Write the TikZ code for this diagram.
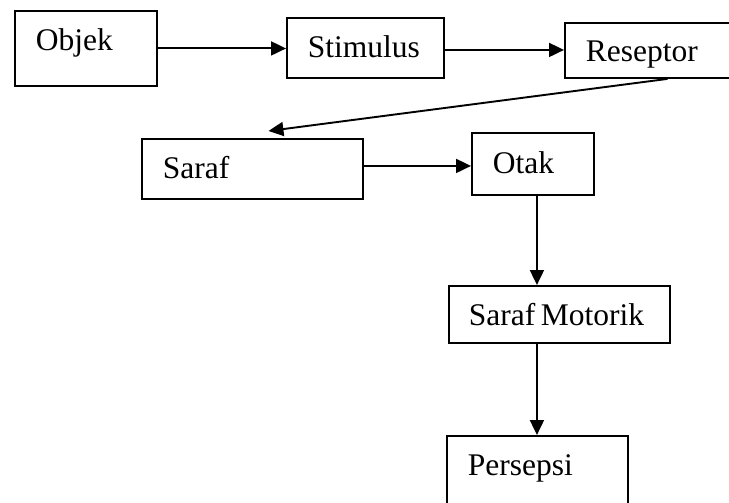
\documentclass[tikz,border=0pt]{standalone}
\usepackage{fontspec}
\setmainfont{Liberation Serif}[WordSpace=0.7]
\usetikzlibrary{positioning, arrows.meta}

\begin{document}
\begin{tikzpicture}[x=1pt, y=-1pt,
		box/.style={draw, line width=1.9pt, anchor=north west, align=flush left,
			inner xsep=21pt, inner ysep=0pt, font=\fontsize{31.5}{37}\selectfont},
		arr/.style={line width=1.9pt, -{Triangle[length=15pt, width=14pt]}}]
		\useasboundingbox (0,0) rectangle (729,503);
		\clip (0,0) rectangle (729,503);

		% Boxes (top left corner given)
		\node[box, text width=100pt, text height=40pt, text depth=35pt] (objek) at (14,10) {Objek};
		\node[box, text width=115pt, text height=40pt, text depth=20pt] (stimulus) at (286,17) {Stimulus};
		\node[box, text width=139pt, text height=39pt, text depth=16pt] (reseptor) at (564,22) {Reseptor}; % runs past the edge
		\node[box, text width=179pt, text height=40pt, text depth=20pt] (saraf) at (141,138) {Saraf};
		\node[box, text width=80pt, text height=41pt, text depth=21pt] (otak) at (471,132) {Otak};
		\node[box, text width=181pt, inner xsep=20pt, text height=40pt, text depth=17pt] (motorik) at (448,285) {Saraf Motorik};
		\node[box, text width=139pt, text height=40pt, text depth=45pt] (persepsi) at (446,435) {Persepsi}; % runs past the edge

		% Arrows
		\draw[arr] (objek.east) -- (objek.east -| stimulus.west);
		\draw[arr] ([yshift=-2pt]stimulus.east) -- ([yshift=-2pt]stimulus.east -| reseptor.west);
		\draw[arr] ([xshift=12pt]reseptor.south) -- ([xshift=16pt, yshift=7pt]saraf.north);
		\draw[arr] ([yshift=3pt]saraf.east) -- ([yshift=3pt]saraf.east -| otak.west);
		\draw[arr] ([xshift=4pt]otak.south) -- ([xshift=4pt]otak.south |- motorik.north);
		\draw[arr] ([xshift=4pt]otak.south |- motorik.south) -- ([xshift=4pt]otak.south |- persepsi.north);
	\end{tikzpicture}
\end{document}
